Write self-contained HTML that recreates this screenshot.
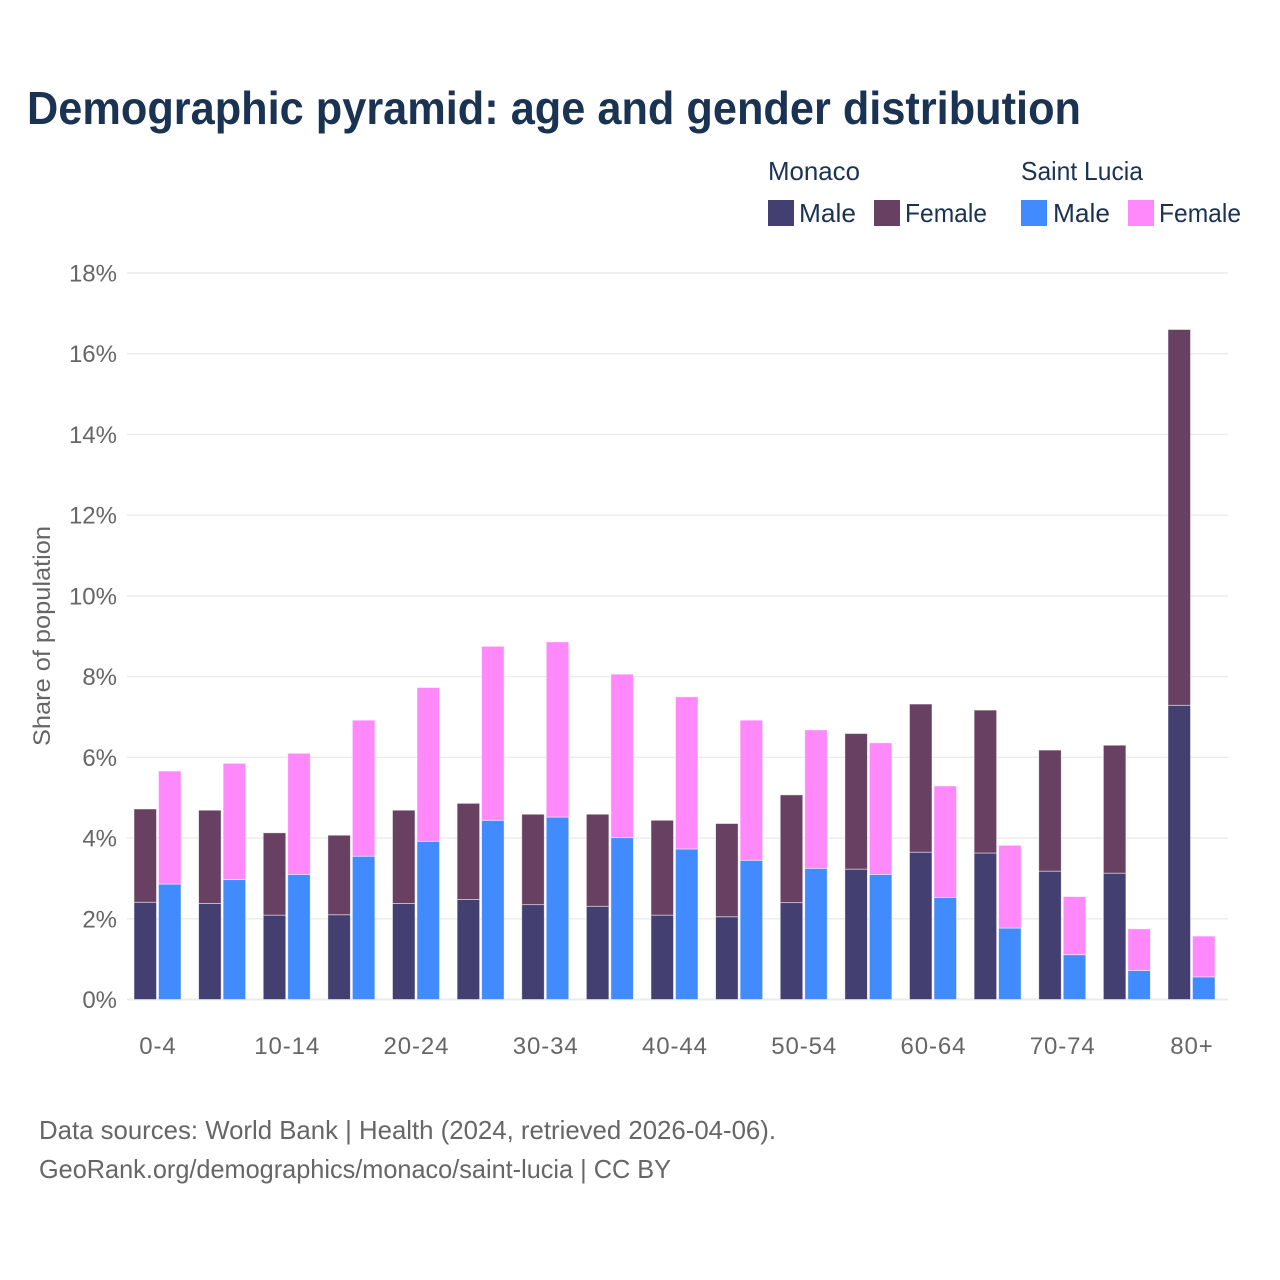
<!DOCTYPE html>
<html lang="en">
<head>
<meta charset="utf-8">
<title>Demographic pyramid: age and gender distribution</title>
<style>
html,body{margin:0;padding:0;background:#fff;}
svg{display:block;}
text{font-family:"Liberation Sans",sans-serif;}
</style>
</head>
<body>
<svg id="chart" xmlns="http://www.w3.org/2000/svg" width="1280" height="1280" viewBox="0 0 1280 1280">
  <rect x="0" y="0" width="1280" height="1280" fill="#ffffff"/>
  <text x="27" y="124" font-size="46" font-weight="700" fill="#1a3353" textLength="1054" lengthAdjust="spacingAndGlyphs">Demographic pyramid: age and gender distribution</text>

  <g font-size="26" fill="#1a3353">
    <text x="768" y="180" textLength="92" lengthAdjust="spacingAndGlyphs">Monaco</text>
    <rect x="768" y="200" width="26" height="26" fill="#433f70"/>
    <text x="799" y="222" textLength="57" lengthAdjust="spacingAndGlyphs">Male</text>
    <rect x="874" y="200" width="26" height="26" fill="#684162"/>
    <text x="905" y="222" textLength="82" lengthAdjust="spacingAndGlyphs">Female</text>
    <text x="1021" y="180" textLength="122" lengthAdjust="spacingAndGlyphs">Saint Lucia</text>
    <rect x="1021" y="200" width="26" height="26" fill="#418bff"/>
    <text x="1053" y="222" textLength="57" lengthAdjust="spacingAndGlyphs">Male</text>
    <rect x="1128" y="200" width="26" height="26" fill="#ff88fb"/>
    <text x="1159" y="222" textLength="82" lengthAdjust="spacingAndGlyphs">Female</text>
  </g>

  <g id="grid"></g>
  <g id="y-ticks"></g>
  <g id="x-ticks"></g>
  <g id="bars"></g>

  <text transform="translate(50,746) rotate(-90)" x="0" y="0" font-size="24" fill="#666666" textLength="220" lengthAdjust="spacingAndGlyphs">Share of population</text>

  <text x="39" y="1139" font-size="26" fill="#666666" textLength="737" lengthAdjust="spacingAndGlyphs">Data sources: World Bank | Health (2024, retrieved 2026-04-06).</text>
  <text x="39" y="1178" font-size="26" fill="#666666" textLength="632" lengthAdjust="spacingAndGlyphs">GeoRank.org/demographics/monaco/saint-lucia | CC BY</text>
</svg>
<script>
const ageGroups = ['0-4','5-9','10-14','15-19','20-24','25-29','30-34','35-39','40-44','45-49','50-54','55-59','60-64','65-69','70-74','75-79','80+'];
const monacoMale = [2.41,2.38,2.09,2.10,2.38,2.48,2.35,2.31,2.09,2.05,2.40,3.23,3.65,3.63,3.18,3.13,7.29];
const monacoFemale = [2.31,2.31,2.04,1.97,2.31,2.38,2.24,2.28,2.35,2.31,2.67,3.36,3.67,3.54,3.00,3.17,9.31];
const saintLuciaMale = [2.86,2.97,3.10,3.55,3.92,4.44,4.52,4.01,3.73,3.45,3.25,3.10,2.53,1.77,1.11,0.72,0.56];
const saintLuciaFemale = [2.80,2.88,3.00,3.37,3.81,4.31,4.34,4.05,3.77,3.47,3.43,3.26,2.76,2.05,1.44,1.03,1.01];
const yTicks = [0,2,4,6,8,10,12,14,16,18];
const xTickLabels = ['0-4','10-14','20-24','30-34','40-44','50-54','60-64','70-74','80+'];

const NS = 'http://www.w3.org/2000/svg';
const plotLeft = 127, plotRight = 1228, baseY = 999.5, topY = 273, yMax = 18;
const groupStart = 134, groupStep = 64.625, barW = 22.5, barGap = 2;

function yScale(v) { return baseY - (v / yMax) * (baseY - topY); }
function xGroup(i) { return groupStart + groupStep * i; }
function xCenter(i) { return xGroup(i) + barW + barGap / 2; }

const grid = document.getElementById('grid');
const yTickGroup = document.getElementById('y-ticks');
yTicks.forEach(function (t) {
  const line = document.createElementNS(NS, 'line');
  
  
  line.setAttribute('x1', plotLeft);
  line.setAttribute('x2', plotRight);
  line.setAttribute('y1', yScale(t));
  line.setAttribute('y2', yScale(t));
  line.setAttribute('stroke', '#ebebeb');
  line.setAttribute('stroke-width', t === 0 ? 2 : 1.4);
  grid.appendChild(line);

  const label = document.createElementNS(NS, 'text');
  
  
  label.setAttribute('x', 117);
  label.setAttribute('y', yScale(t) + 8.5);
  label.setAttribute('text-anchor', 'end');
  label.setAttribute('font-size', 24);
  label.setAttribute('fill', '#666666');
  label.textContent = t + '%';
  yTickGroup.appendChild(label);
});

const xTickGroup = document.getElementById('x-ticks');
xTickLabels.forEach(function (name) {
  const label = document.createElementNS(NS, 'text');
  
  
  label.setAttribute('x', xCenter(ageGroups.indexOf(name)) + 0.5);
  label.setAttribute('y', 1054);
  label.setAttribute('text-anchor', 'middle');
  label.setAttribute('font-size', 24);
  label.setAttribute('letter-spacing', '0.9');
  label.setAttribute('fill', '#666666');
  label.textContent = name;
  xTickGroup.appendChild(label);
});

const barGroup = document.getElementById('bars');
function addBar(x, base, value, color) {
  const top = yScale(base + value);
  const rect = document.createElementNS(NS, 'rect');
  
  
  rect.setAttribute('x', x);
  rect.setAttribute('y', top);
  rect.setAttribute('width', barW);
  rect.setAttribute('height', yScale(base) - top);
  rect.setAttribute('fill', color);
  rect.setAttribute('stroke', '#ffffff');
  rect.setAttribute('stroke-opacity', '0.6');
  rect.setAttribute('stroke-width', '0.8');
  barGroup.appendChild(rect);
}
ageGroups.forEach(function (g, i) {
  const x1 = xGroup(i);
  const x2 = x1 + barW + barGap;
  addBar(x1, 0, monacoMale[i], '#433f70');
  addBar(x1, monacoMale[i], monacoFemale[i], '#684162');
  addBar(x2, 0, saintLuciaMale[i], '#418bff');
  addBar(x2, saintLuciaMale[i], saintLuciaFemale[i], '#ff88fb');
});
</script>
</body>
</html>
